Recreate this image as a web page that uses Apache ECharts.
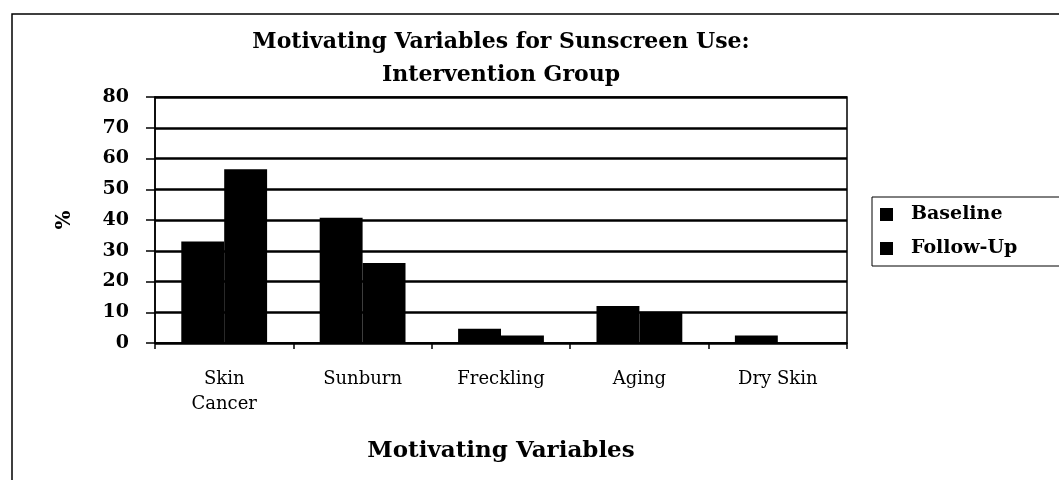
<!DOCTYPE html>
<html lang="en">
<head>
  <meta charset="UTF-8">
  <title>Motivating Variables for Sunscreen Use</title>
  <script src="https://cdn.jsdelivr.net/npm/echarts@6/dist/echarts.min.js"></script>
  <style>
    html, body { margin: 0; padding: 0; background: #fff; }
    #chart { width: 1059px; height: 480px; }
  </style>
</head>
<body>
  <div id="chart"></div>
  <script>
    // data
    const categories = ['Skin\nCancer', 'Sunburn', 'Freckling', 'Aging', 'Dry Skin'];
    const baseline = [33, 40.7, 4.6, 12, 2.4];
    const followUp = [56.5, 26, 2.4, 10.2, 0];
    const yTicks = { min: 0, max: 80, interval: 10 };

    const font = 'DejaVu Serif';
    const chart = echarts.init(document.getElementById('chart'));

    const option = {
      backgroundColor: '#fff',
      animation: false,
      title: {
        text: 'Motivating Variables for Sunscreen Use:\nIntervention Group',
        left: 501,
        top: 26,
        padding: 0,
        textAlign: 'center',
        textStyle: {
          fontFamily: font,
          fontWeight: 'bold',
          fontSize: 22,
          lineHeight: 33,
          color: '#000'
        }
      },
      legend: {
        orient: 'vertical',
        left: 872,
        top: 197,
        padding: [8, 80, 8, 8],
        itemGap: 15,
        itemWidth: 13,
        itemHeight: 13,
        icon: 'rect',
        borderColor: '#000',
        borderWidth: 1,
        textStyle: {
          fontFamily: font,
          fontWeight: 'bold',
          fontSize: 19,
          color: '#000',
          padding: [0, 0, 0, 13]
        },
        data: ['Baseline', 'Follow-Up']
      },
      graphic: [
        {
          type: 'rect',
          shape: { x: 12, y: 14, width: 1100, height: 520 },
          style: { fill: 'none', stroke: '#000', lineWidth: 1.5 },
          silent: true
        }
      ],
      grid: {
        left: 155,
        right: 212,
        top: 97,
        bottom: 137,
        show: true,
        borderColor: '#000',
        borderWidth: 1.5,
        backgroundColor: 'transparent'
      },
      xAxis: {
        type: 'category',
        data: categories,
        name: 'Motivating Variables',
        nameLocation: 'middle',
        nameGap: 97,
        nameTextStyle: { fontFamily: font, fontWeight: 'bold', fontSize: 23, color: '#000' },
        axisLine: { lineStyle: { color: '#000', width: 1.5 } },
        axisTick: { show: true, length: 6, lineStyle: { color: '#000', width: 1.5 } },
        axisLabel: {
          margin: 24,
          fontFamily: font,
          fontSize: 18,
          lineHeight: 25,
          color: '#000'
        }
      },
      yAxis: {
        type: 'value',
        min: yTicks.min,
        max: yTicks.max,
        interval: yTicks.interval,
        name: '%',
        nameLocation: 'middle',
        nameGap: 80,
        nameTextStyle: { fontFamily: font, fontWeight: 'bold', fontSize: 20, color: '#000' },
        axisLine: { show: true, lineStyle: { color: '#000', width: 1.5 } },
        axisTick: { show: true, length: 9, lineStyle: { color: '#000', width: 1.5 } },
        axisLabel: {
          margin: 26,
          fontFamily: font,
          fontWeight: 'bold',
          fontSize: 19,
          color: '#000'
        },
        splitLine: { show: true, lineStyle: { color: '#000', width: 2.5 } }
      },
      series: [
        {
          name: 'Baseline',
          type: 'bar',
          data: baseline,
          barGap: '0%',
          barCategoryGap: '38%',
          itemStyle: { color: '#000' }
        },
        {
          name: 'Follow-Up',
          type: 'bar',
          data: followUp,
          itemStyle: { color: '#000' }
        }
      ]
    };

    chart.setOption(option);
  </script>
</body>
</html>
